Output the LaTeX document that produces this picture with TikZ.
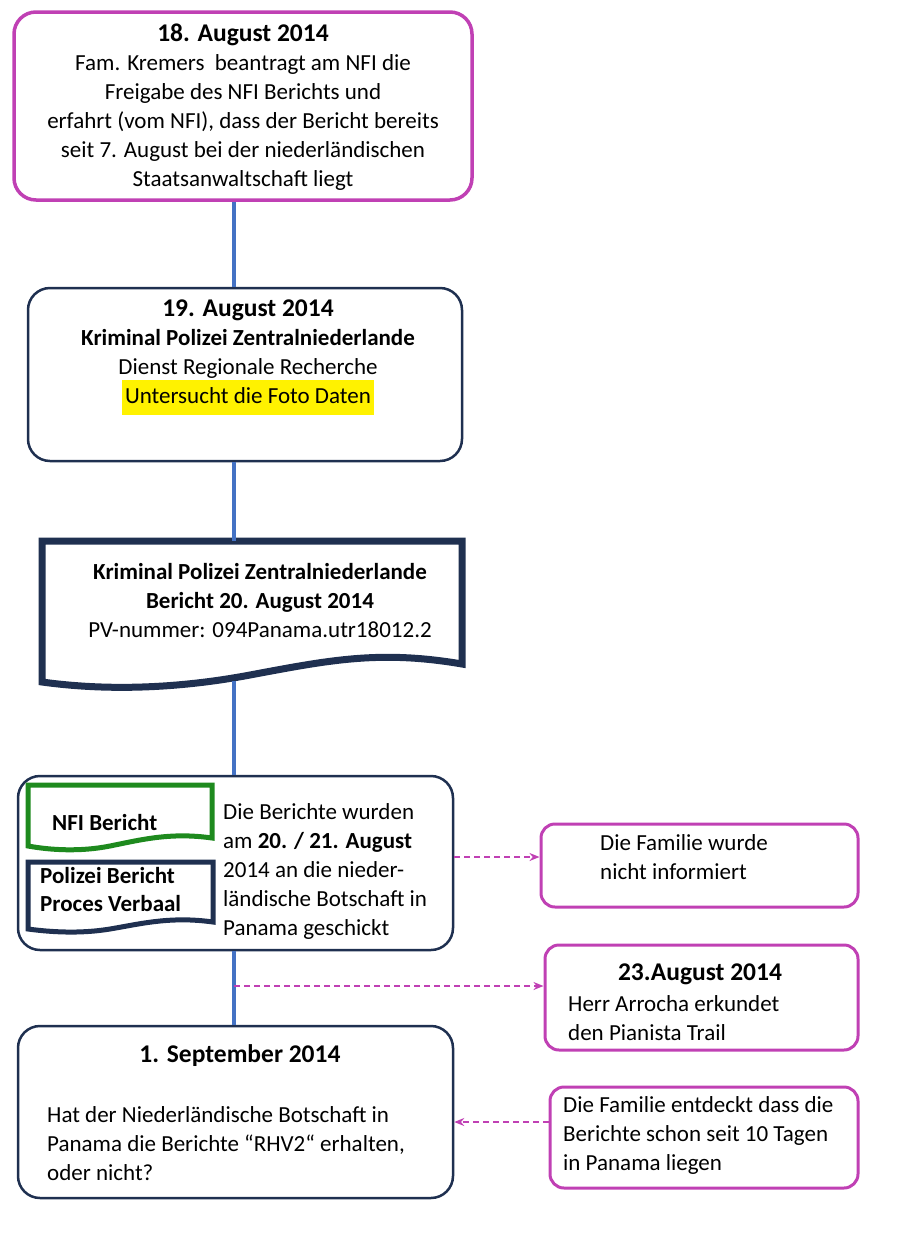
\documentclass[tikz,border=0pt]{standalone}
\usepackage{fontspec}
\setmainfont{Carlito}
\usetikzlibrary{positioning,arrows.meta}
\definecolor{magbox}{HTML}{C040B4}
\definecolor{navybox}{HTML}{1F3050}
\definecolor{spineblue}{HTML}{4472C4}
\definecolor{greenbox}{HTML}{1E8A1E}
\tikzset{
  magstyle/.style={draw=magbox,line width=3.5pt,rounded corners=22pt},
  navystyle/.style={draw=navybox,line width=2.5pt,rounded corners=22pt},
  txt/.style={font=\fontsize{23}{29}\selectfont,align=center,inner sep=0pt},
  ltxt/.style={font=\fontsize{23}{29}\selectfont,align=left,inner sep=0pt,anchor=north west},
  spinestyle/.style={draw=spineblue,line width=3.5pt},
  dashstyle/.style={draw=magbox,line width=2pt,dash pattern=on 6pt off 4pt,-{Stealth[length=10pt,width=8pt]}}
}
\begin{document}
\begin{tikzpicture}[x=1pt,y=-1pt]
\useasboundingbox (0,0) rectangle (908,1256);
\coordinate (spine) at (234,0);
% main column
\node[magstyle,minimum width=458,minimum height=188] (d18) at (243,106) {};
\node[txt] at (243,107) {{\bfseries\fontsize{25.5}{29}\selectfont 18. August 2014}\\Fam. Kremers\ \ beantragt am NFI die\\Freigabe des NFI Berichts und\\erfahrt (vom NFI), dass der Bericht bereits\\seit 7. August bei der niederländischen\\Staatsanwaltschaft liegt};
\node[navystyle,minimum width=434,minimum height=173] (d19) at (245,374.5) {};
\node[txt] at (248,357) {{\bfseries\fontsize{25.5}{29}\selectfont 19. August 2014}\\\textbf{Kriminal Polizei Zentralniederlande}\\Dienst Regionale Recherche\\\colorbox{yellow}{\strut Untersucht die Foto Daten}};
% report document
\draw[draw=navybox,line width=7pt,line join=miter]
  (42,541) coordinate (rtop) -- (462,541) -- (462,664)
  .. controls (380,650) and (330,660) .. (250,675)
  .. controls (170,690) and (100,690) .. (42,682) coordinate (rbot) -- cycle;
\node[txt] (rtext) at (260,601) {\textbf{Kriminal Polizei Zentralniederlande}\\\textbf{Bericht 20. August 2014}\\PV-nummer: 094Panama.utr18012.2};
\coordinate (rdown) at (234,681);
% sent box
\node[navystyle,minimum width=435,minimum height=174] (sent) at (235.5,863) {};
\draw[draw=greenbox,line width=5pt] (28,785) -- (212,785) -- (212,838)
  .. controls (170,832) and (140,840) .. (110,846) .. controls (80,852) and (50,850) .. (28,846) -- cycle;
\node[font=\fontsize{23}{29}\selectfont\bfseries,anchor=west,inner sep=0pt] at (52,823) {NFI Bericht};
\draw[draw=navybox,line width=5pt] (28,862) -- (213,862) -- (213,922)
  .. controls (170,916) and (140,924) .. (110,929) .. controls (80,934) and (50,932) .. (28,929) -- cycle;
\node[font=\fontsize{23}{28}\selectfont\bfseries,align=left,anchor=north west,inner sep=0pt] at (40,867) {Polizei Bericht\\Proces Verbaal};
\node[ltxt] at (223,803) {Die Berichte wurden\\am \textbf{20. / 21. August}\\2014 an die nieder-\\ländische Botschaft in\\Panama geschickt};
\node[navystyle,minimum width=435,minimum height=172] (sept) at (235.5,1112) {};
\node[txt] at (240,1056) {\bfseries\fontsize{25.5}{29}\selectfont 1. September 2014};
\node[ltxt] at (47,1106) {Hat der Niederländische Botschaft in\\Panama die Berichte “RHV2“ erhalten,\\oder nicht?};
% right column
\node[magstyle,rounded corners=14pt,line width=3pt,minimum width=317,minimum height=83] (noinfo) at (699.5,865.5) {};
\node[ltxt] at (600,834) {Die Familie wurde\\nicht informiert};
\node[magstyle,rounded corners=14pt,line width=3pt,minimum width=313,minimum height=105] (d23) at (701.5,997.5) {};
\node[txt] at (700,974) {\bfseries\fontsize{25.5}{29}\selectfont 23.August 2014};
\node[ltxt] at (568,995) {Herr Arrocha erkundet\\den Pianista Trail};
\node[magstyle,rounded corners=14pt,line width=3pt,minimum width=308,minimum height=101] (found) at (704,1137.5) {};
\node[ltxt] at (563,1096) {Die Familie entdeckt dass die\\Berichte schon seit 10 Tagen\\in Panama liegen};
% connectors
\coordinate (a1) at (0,857);
\coordinate (a2) at (0,986);
\coordinate (a3) at (0,1122);
\draw[spinestyle] (d18.south-|spine) -- (d19.north-|spine);
\draw[spinestyle] (d19.south-|spine) -- (rtop-|spine);
\draw[spinestyle] (rdown) -- (sent.north-|spine);
\draw[spinestyle] (sent.south-|spine) -- (sept.north-|spine);
\draw[dashstyle] (sent.east|-a1) -- (noinfo.west|-a1);
\draw[dashstyle] (spine|-a2) -- (d23.west|-a2);
\draw[dashstyle] (found.west|-a3) -- (sept.east|-a3);
\end{tikzpicture}
\end{document}
